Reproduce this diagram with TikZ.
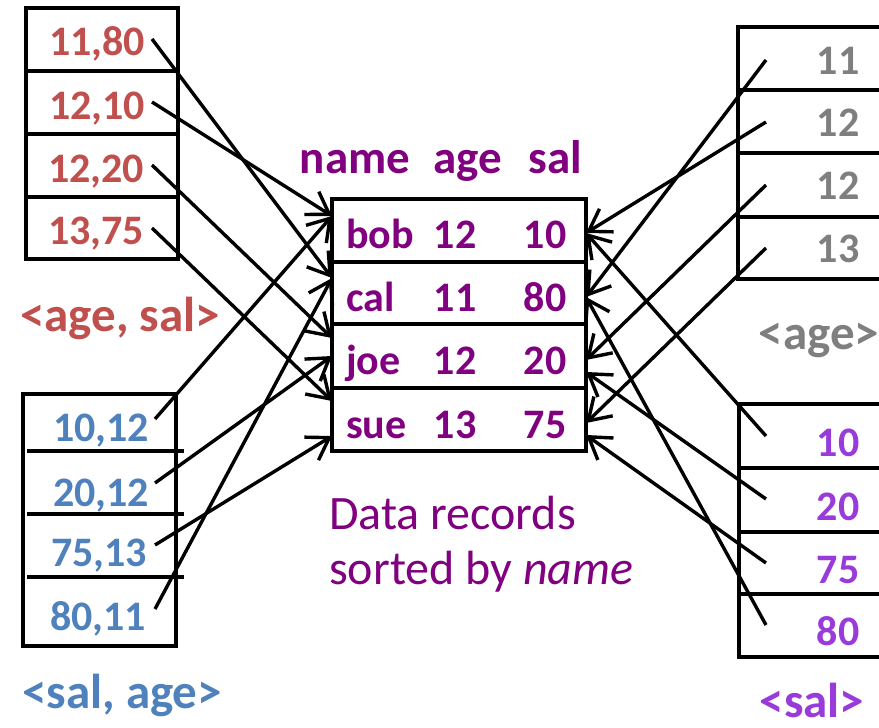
\documentclass[tikz,border=0pt]{standalone}
\usepackage{fontspec}
\setmainfont{Carlito}
\usetikzlibrary{arrows.meta}
\definecolor{cred}{RGB}{192,80,77}
\definecolor{cblue}{RGB}{79,129,189}
\definecolor{cgray}{RGB}{127,127,127}
\definecolor{cpurp}{RGB}{128,0,128}
\definecolor{cviol}{RGB}{153,59,219}
\tikzset{
  boxline/.style={line width=3.2pt, line cap=rect},
  big/.style={font=\fontsize{42}{48}\selectfont\bfseries, inner sep=0pt, anchor=base},
  head/.style={font=\fontsize{47}{52}\selectfont\bfseries, inner sep=0pt, anchor=base},
  lab/.style={font=\fontsize{49}{54}\selectfont\bfseries, inner sep=0pt, anchor=base},
  capt/.style={font=\fontsize{48}{55}\selectfont, text=cpurp, anchor=base west, inner sep=0pt},
  conn/.style={draw=black, line width=3.4pt, arrows={-Straight Barb[length=21pt,width=27pt]}},
}
\begin{document}
\begin{tikzpicture}[x=1pt,y=-1pt]
\clip (0,0) rectangle (879,728);
\fill[white] (0,0) rectangle (879,728);
% left top box
\draw[boxline] (26,8) rectangle (178,259);
\foreach \y in {71,134,197} \draw[boxline] (26,\y) -- (178,\y);
\node[big,cred] (l1) at (97,56) {11,80};
\node[big,cred] (l2) at (97,119) {12,10};
\node[big,cred] (l3) at (96,182) {12,20};
\node[big,cred] (l4) at (96,244) {13,75};
\node[lab,cred] (lab1) at (120,331) {<age, sal>};
% left bottom box
\draw[boxline] (23,394) rectangle (176,646);
\foreach \y in {451,514,577} \draw[boxline] (29,\y) -- (182,\y);
\node[big,cblue] (b1) at (101,441) {10,12};
\node[big,cblue] (b2) at (101,506) {20,12};
\node[big,cblue] (b3) at (99,566) {75,13};
\node[big,cblue] (b4) at (98,630) {80,11};
\node[lab,cblue] (lab2) at (122,708) {<sal, age>};
% middle box
\draw[boxline] (332,199) rectangle (586,451);
\foreach \y in {262,324,388} \draw[boxline] (332,\y) -- (586,\y);
\node[head,cpurp] (hn) at (355,173) {name};
\node[head,cpurp] (ha) at (468,173) {age};
\node[head,cpurp] (hs) at (555,173) {sal};
\foreach \n/\a/\s/\y/\k in {bob/12/10/248/1, cal/11/80/311/2, joe/12/20/374/3, sue/13/75/438/4}{
  \node[big,cpurp,anchor=base west] (mn\k) at (346,\y) {\n};
  \node[big,cpurp] (ma\k) at (455,\y) {\a};
  \node[big,cpurp] (ms\k) at (545,\y) {\s};
}
\node[capt] (cap1) at (329,529) {Data records};
\node[capt] (cap2) at (329,584) {sorted by \textit{name}};
% right top box
\draw[boxline] (738,27) rectangle (900,279);
\foreach \y in {90,153,217} \draw[boxline] (738,\y) -- (900,\y);
\node[big,cgray] (r1) at (838,74) {11};
\node[big,cgray] (r2) at (838,136) {12};
\node[big,cgray] (r3) at (838,199) {12};
\node[big,cgray] (r4) at (838,262) {13};
\node[lab,cgray] (lab3) at (819,349) {<age>};
% right bottom box
\draw[boxline] (739,404) rectangle (900,657);
\foreach \y in {468,532,594} \draw[boxline] (739,\y) -- (900,\y);
\node[big,cviol] (v1) at (838,456) {10};
\node[big,cviol] (v2) at (838,520) {20};
\node[big,cviol] (v3) at (838,583) {75};
\node[big,cviol] (v4) at (838,645) {80};
\node[lab,cviol] (lab4) at (812,717) {<sal>};
% start coordinates
\coordinate (sl1) at (152,39);
\coordinate (sl2) at (152,102);
\coordinate (sl3) at (152,165);
\coordinate (sl4) at (152,228);
\coordinate (sb1) at (155,419);
\coordinate (sb2) at (155,483);
\coordinate (sb3) at (155,545);
\coordinate (sb4) at (155,609);
\coordinate (sr1) at (766,60);
\coordinate (sr2) at (766,122);
\coordinate (sr3) at (766,185);
\coordinate (sr4) at (766,248);
\coordinate (sv1) at (766,436);
\coordinate (sv2) at (766,499);
\coordinate (sv3) at (766,563);
\coordinate (sv4) at (766,625);
% end coordinates
\coordinate (eL1) at (332,216);
\coordinate (eL2) at (332,278);
\coordinate (eL3a) at (332,338);
\coordinate (eL3b) at (332,356);
\coordinate (eL4a) at (332,401);
\coordinate (eL4b) at (332,436);
\coordinate (eR1) at (586,233);
\coordinate (eR2) at (586,297);
\coordinate (eR3a) at (586,360);
\coordinate (eR3b) at (586,372);
\coordinate (eR4a) at (586,423);
\coordinate (eR4b) at (586,435);
% arrows
\path[conn] (sl1) -- (eL2);
\path[conn] (sl2) -- (eL1);
\path[conn] (sl3) -- (eL3a);
\path[conn] (sl4) -- (eL4a);
\path[conn] (sb1) -- (eL1);
\path[conn] (sb2) -- (eL3b);
\path[conn] (sb3) -- (eL4b);
\path[conn] (sb4) -- (eL2);
\path[conn] (sr1) -- (eR2);
\path[conn] (sr2) -- (eR1);
\path[conn] (sr3) -- (eR3a);
\path[conn] (sr4) -- (eR4a);
\path[conn] (sv1) -- (eR1);
\path[conn] (sv2) -- (eR3b);
\path[conn] (sv3) -- (eR4b);
\path[conn] (sv4) -- (eR2);
\end{tikzpicture}
\end{document}
